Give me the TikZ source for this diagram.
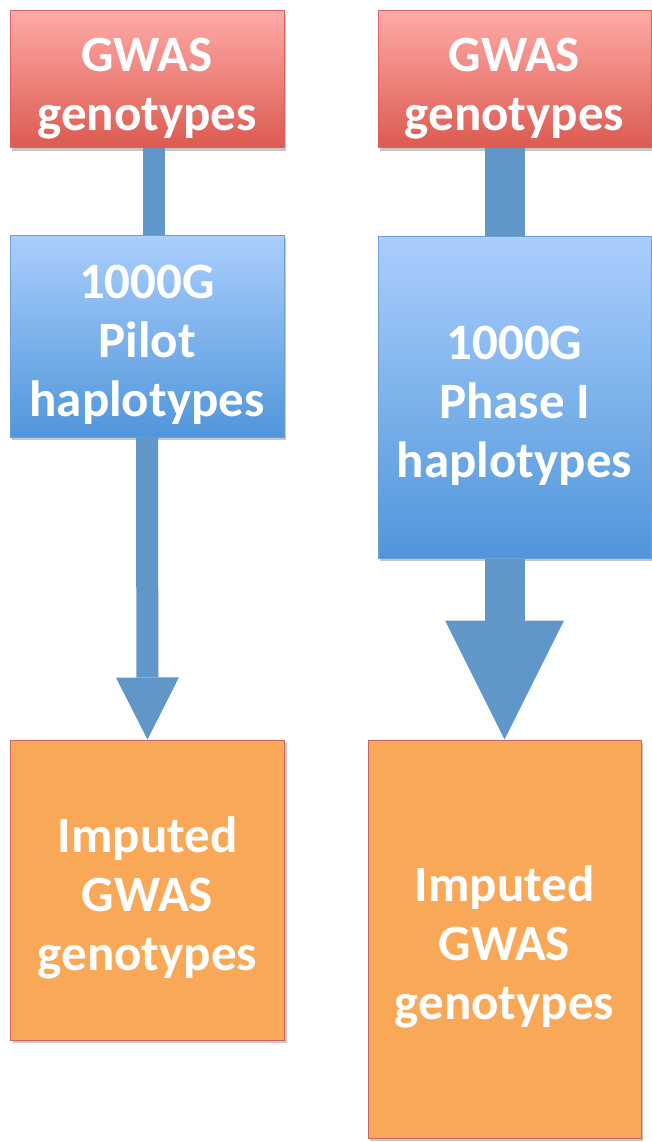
\documentclass[tikz,border=0pt]{standalone}
\usepackage{fontspec}
\setmainfont{Carlito}
\usetikzlibrary{arrows.meta, shadows, calc}
\definecolor{GwasTop}{RGB}{255,170,166}
\definecolor{GwasBot}{RGB}{219,90,80}
\definecolor{GwasLine}{RGB}{214,100,92}
\definecolor{RefTop}{RGB}{170,206,253}
\definecolor{RefBot}{RGB}{80,150,218}
\definecolor{RefLine}{RGB}{106,159,216}
\definecolor{ImpFill}{RGB}{249,168,87}
\definecolor{ImpLine}{RGB}{204,100,98}
\definecolor{ArrowBlue}{RGB}{96,150,200}
% first line is set a bit lower, as in the slide
\newcommand{\tline}{\rule{0pt}{52pt}}

\begin{document}
\begin{tikzpicture}[x=1pt, y=-1pt,
    box/.style={rectangle, line width=1pt, inner sep=0pt, align=center, text=white,
                font=\fontsize{51}{59}\selectfont\bfseries,
                drop shadow={opacity=0.45, shadow xshift=2pt, shadow yshift=-3pt}},
    gwas/.style={box, draw=GwasLine, top color=GwasTop, bottom color=GwasBot},
    panel/.style={box, draw=RefLine, top color=RefTop, bottom color=RefBot},
    imputed/.style={box, draw=ImpLine, fill=ImpFill},
    stem/.style={color=ArrowBlue}]
    \useasboundingbox (0,0) rectangle (652,1142);

    \node[gwas, minimum width=274pt, minimum height=137pt] (gwasL) at (147, 79.5) {\tline GWAS\\genotypes};
    \node[gwas, minimum width=273pt, minimum height=137pt] (gwasR) at (514.5, 79.5) {\tline GWAS\\genotypes};
    \node[panel, minimum width=274pt, minimum height=202pt] (pilot) at (147, 336) {\tline 1000G\\Pilot\\haplotypes};
    \node[panel, minimum width=273pt, minimum height=322pt] (phase) at (514.5, 397) {\tline 1000G\\Phase I\\haplotypes};
    \node[imputed, minimum width=274pt, minimum height=300pt] (impL) at (147.5, 890) {\tline Imputed\\GWAS\\genotypes};
    \node[imputed, minimum width=273pt, minimum height=398pt] (impR) at (504.5, 939) {\tline Imputed\\GWAS\\genotypes};

    \draw[stem, line width=22pt] ([xshift=7pt]gwasL.south) -- ([xshift=7pt]pilot.north);
    \draw[stem, line width=40pt] (gwasR.south -| impR.north) -- (phase.north -| impR.north);
    \draw[stem, line width=22pt, -{Triangle[width=63pt 0 0, length=62pt 0 0, line width=0pt 0 0]}]
        (pilot.south) -- (impL.north);
    \draw[stem, line width=40pt, -{Triangle[width=119pt 0 0, length=119pt 0 0, line width=0pt 0 0]}]
        (phase.south -| impR.north) -- (impR.north);
\end{tikzpicture}
\end{document}
